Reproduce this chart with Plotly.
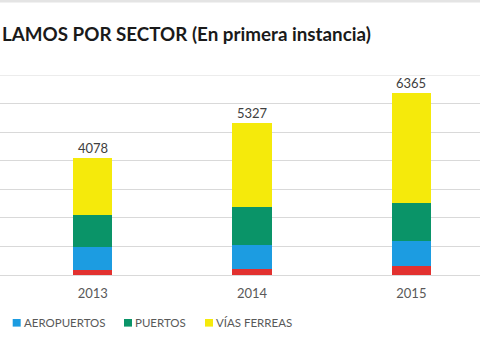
import plotly.graph_objects as go

# Reclamos por sector, en primera instancia
years = ["2013", "2014", "2015"]
red_vial = [175, 220, 325]
aeropuertos = [790, 830, 855]
puertos = [1130, 1345, 1355]
vias_ferreas = [1983, 2932, 3830]
totals = [4078, 5327, 6365]
y_max = 7000

series = [
    ("RED VIAL", red_vial, "#E2312F", False),
    ("AEROPUERTOS", aeropuertos, "#1C9CE1", True),
    ("PUERTOS", puertos, "#0A9468", True),
    ("VÍAS FERREAS", vias_ferreas, "#F5EA0B", True),
]

FONT = "Lato, 'Open Sans', sans-serif"
TEXT = "#595959"
GRID = "#d9d9d9"

fig = go.Figure()
for name, vals, color, shown in series:
    fig.add_trace(go.Bar(
        x=years, y=vals, name=name, marker_color=color,
        marker_line_width=0, width=0.246, showlegend=False,
    ))

# Total above each stacked bar (category index on the x axis)
for i, tot in enumerate(totals):
    fig.add_annotation(
        x=i, y=tot, text=str(tot), showarrow=False,
        yanchor="bottom", yshift=0,
        font=dict(family=FONT, size=13, color="#404040"),
    )

# Title
fig.add_annotation(
    xref="paper", yref="paper", x=0.0, y=1.205, xanchor="left", yanchor="middle",
    text="<b>LAMOS POR SECTOR (En primera instancia)</b>", showarrow=False,
    font=dict(family=FONT, size=18.8, color="#1a1a1a"),
)

# Legend built from the series colours
legend_pos = {"AEROPUERTOS": 12.7, "PUERTOS": 124.0, "VÍAS FERREAS": 205.0}
W = 480.0
for name, vals, color, shown in series:
    if not shown:
        continue
    x0 = legend_pos[name]
    fig.add_shape(
        type="rect", xref="paper", yref="paper",
        x0=x0 / W, x1=(x0 + 8) / W, y0=-0.258, y1=-0.22,
        fillcolor=color, line_width=0,
    )
    fig.add_annotation(
        xref="paper", yref="paper", x=(x0 + 9) / W, y=-0.239,
        xanchor="left", yanchor="middle", text=name, showarrow=False,
        font=dict(family=FONT, size=11.5, color=TEXT),
    )

# top gridline at the axis maximum
fig.add_shape(type="line", xref="paper", yref="y", x0=0, x1=1,
              y0=y_max, y1=y_max, line=dict(color=GRID, width=1), layer="below")

# thin grey strip along the top edge
fig.add_shape(type="rect", xref="paper", yref="paper", x0=0, x1=1,
              y0=1.362, y1=1.38, fillcolor="#e4e4e4", line_width=0)

fig.update_layout(
    width=480, height=345,
    margin=dict(l=0, r=0, t=75, b=70),
    barmode="stack",
    plot_bgcolor="white", paper_bgcolor="white",
    showlegend=False,
    xaxis=dict(
        type="category", range=[-0.582, 2.431],
        showgrid=False, showline=False, ticks="",
        ticklabelstandoff=9,
        tickfont=dict(family=FONT, size=13, color=TEXT),
    ),
    yaxis=dict(
        range=[0, y_max], tickvals=[1000, 2000, 3000, 4000, 5000, 6000],
        showticklabels=False,
        showgrid=True, gridcolor=GRID, gridwidth=1,
        zeroline=True, zerolinecolor=GRID, zerolinewidth=1,
        showline=False, ticks="",
    ),
)

fig.write_html("out.html")
